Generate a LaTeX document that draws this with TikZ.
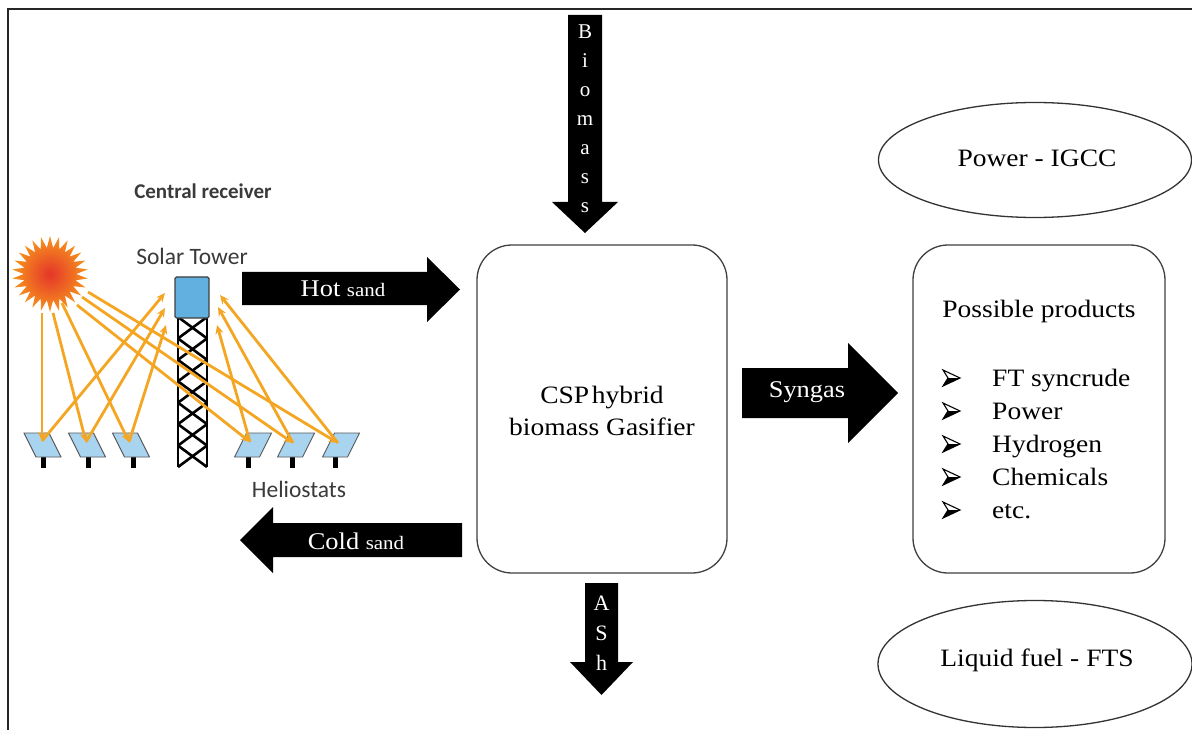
\documentclass[tikz,border=0pt]{standalone}
\usepackage{fontspec}
\usepackage{graphicx}
\setmainfont{Liberation Serif}
\newfontfamily\labelfont{Carlito}
\usetikzlibrary{shapes.geometric,arrows.meta}
\newcommand\wider[1]{\scalebox{1.1}[1]{#1}}
\newcommand\fs[2]{\fontsize{#1}{#2}\selectfont}
\definecolor{raycol}{HTML}{F4A623}
\definecolor{panelblue}{HTML}{A9D4F0}
\definecolor{receiverblue}{HTML}{62B0E0}
\definecolor{sunred}{HTML}{E4352A}
\definecolor{sunorange}{HTML}{F7941D}
\definecolor{labelgray}{HTML}{3A3A3A}
\begin{document}
\begin{tikzpicture}[x=1pt,y=-1pt,
  blockarrow/.style={fill=black, draw=none},
  arrowtext/.style={text=white, inner sep=0pt, font=\fs{24}{28}},
  lettertext/.style={text=white, inner sep=0pt, align=center},
  procbox/.style={draw=black!75, line width=1.3pt, rounded corners=35pt},
  oval/.style={draw=black!80, line width=1.3pt},
  bodytext/.style={inner sep=0pt, font=\fs{25}{32}},
  sanslabel/.style={inner sep=0pt, text=labelgray, font=\labelfont\fs{23.5}{26}},
  rayline/.style={draw=raycol, line width=2.8pt, -{Stealth[length=9pt,width=8pt]}},
  panel/.style={fill=panelblue, draw=black!65, line width=0.9pt},
  lattice/.style={draw=black, line width=2.6pt}
]
\useasboundingbox (0,0) rectangle (1192,730);
\fill[white] (0,0) rectangle (1192,730);

% outer frame
\draw[line width=2pt, black!85] (8,730) -- (8,9.5) -- (1192,9.5);

% ---------------- solar field ----------------
\node[sanslabel, font=\labelfont\bfseries\fs{21}{24}] (central) at (203,191) {Central receiver};
\node[sanslabel] (towerlabel) at (192,256) {Solar Tower};
\node[sanslabel] (heliolabel) at (299,489) {Heliostats};

% sun
\node[star, star points=26, star point ratio=1.45, minimum size=76pt, inner sep=0pt,
      inner color=sunred, outer color=sunorange] (sun) at (50,274) {};

% tower lattice
\foreach \i in {0,...,6}{
  \pgfmathsetmacro\ya{317+\i*150/7}
  \pgfmathsetmacro\yb{317+(\i+1)*150/7}
  \draw[lattice] (178,\ya) -- (207,\yb);
  \draw[lattice] (207,\ya) -- (178,\yb);
}
\draw[lattice] (178,317) -- (178,467);
\draw[lattice] (207,317) -- (207,467);
% receiver on top of the tower
\draw[fill=receiverblue, draw=black!75, line width=1.2pt, rounded corners=1.5pt] (175,277) rectangle (209,318);

% heliostats: centre / tilt / stand position
\foreach \c/\k/\sx in {42.5/1/43, 87/1/88, 131/1/133, 253/-1/248, 296/-1/292, 341/-1/335}{
  \fill[black] ({\sx-2.5},457) rectangle ({\sx+2.5},468);
  \draw[panel] ({\c-12.5-6*\k},433) -- ({\c+12.5-6*\k},433) -- ({\c+12.5+6*\k},457) -- ({\c-12.5+6*\k},457) -- cycle;
}

% ray end points
\coordinate (s1) at (42,313);  \coordinate (s2) at (53,313);  \coordinate (s3) at (62,303);
\coordinate (s4) at (77,305);  \coordinate (s5) at (82,297);  \coordinate (s6) at (88,292);
\coordinate (h1) at (42,441);  \coordinate (h2) at (86,442);  \coordinate (h3) at (129,442);
\coordinate (h4) at (250,442); \coordinate (h5) at (293,443); \coordinate (h6) at (338,443);
\coordinate (t1) at (165,293); \coordinate (t2) at (165,308); \coordinate (t3) at (166,325);
\coordinate (t4) at (217,325); \coordinate (t5) at (218,307); \coordinate (t6) at (220,295);

% incoming sunlight
\foreach \n in {1,...,6}{ \draw[rayline] (s\n) -- (h\n); }
% reflected light to the receiver
\foreach \n in {1,...,6}{ \draw[rayline] (h\n) -- (t\n); }

% ---------------- process blocks ----------------
\node[procbox, minimum width=250pt, minimum height=328pt] (gasifier) at (602,409) {};
\node[bodytext, align=center] (gastext) at (602,411)
  {\wider{CSP\hspace{0.1em}hybrid}\\ \wider{biomass Gasifier}};

\node[procbox, minimum width=252pt, minimum height=328pt] (products) at (1039,409) {};
\node[bodytext] (prodtitle) at (1039,311) {\wider{Possible products}};
\foreach \t [count=\n] in {FT syncrude, Power, Hydrogen, Chemicals, etc.}{
  \pgfmathsetmacro\yy{386+(\n-1)*33}
  % arrowhead bullet, lower half shaded
  \coordinate (bullet\n) at (943,{\yy-8});
  \begin{scope}[shift={(bullet\n)}]
    \fill[black] (5,0) -- (17,0) -- (0,8) -- cycle;
    \draw[black, line width=1.1pt, line join=miter] (0,-8) -- (17,0) -- (0,8) -- (5,0) -- cycle;
  \end{scope}
  \node[bodytext, anchor=base west] (item\n) at (992,\yy) {\wider{\t}};
}

\node[oval, ellipse, minimum width=313pt, minimum height=115pt] (igcc) at (1035,160) {};
\node[bodytext] (igcctext) at (1037,158) {\wider{Power - IGCC}};
\node[oval, ellipse, minimum width=314pt, minimum height=127pt] (fts) at (1035,664) {};
\node[bodytext] (ftstext) at (1037,660) {\wider{Liquid fuel - FTS}};

% ---------------- block arrows ----------------
% Biomass (down, into the gasifier)
\fill[blockarrow] (568,15) -- (602,15) -- (602,202) -- (618,202) -- (585,233) -- (552,202) -- (568,202) -- cycle;
\node[lettertext, font=\fs{21}{29}] (biomass) at (585,119) {B\\i\\o\\m\\a\\s\\s};

% Ash (down, out of the gasifier)
\fill[blockarrow] (585,583) -- (618,583) -- (618,662) -- (633,662) -- (601.5,695) -- (570,662) -- (585,662) -- cycle;
\node[lettertext, font=\fs{22}{30}] (ash) at (601.5,633) {A\\S\\h};

% Hot sand (tower to gasifier)
\fill[blockarrow] (242,272) -- (427,272) -- (427,257) -- (460,289.5) -- (427,322) -- (427,305) -- (242,305) -- cycle;
\node[arrowtext] (hot) at (343,289) {\wider{Hot {\fs{19}{22}sand}}};

% Cold sand (gasifier back to the field)
\fill[blockarrow] (462,523) -- (273,523) -- (273,507) -- (240,540) -- (273,573) -- (273,557) -- (462,557) -- cycle;
\node[arrowtext] (cold) at (356,541) {\wider{Cold {\fs{19}{22}sand}}};

% Syngas (gasifier to products)
\fill[blockarrow] (742,368) -- (848,368) -- (848,343) -- (898,393) -- (848,443) -- (848,418) -- (742,418) -- cycle;
\node[arrowtext] (syngas) at (807,392) {\wider{Syngas}};
\end{tikzpicture}
\end{document}
